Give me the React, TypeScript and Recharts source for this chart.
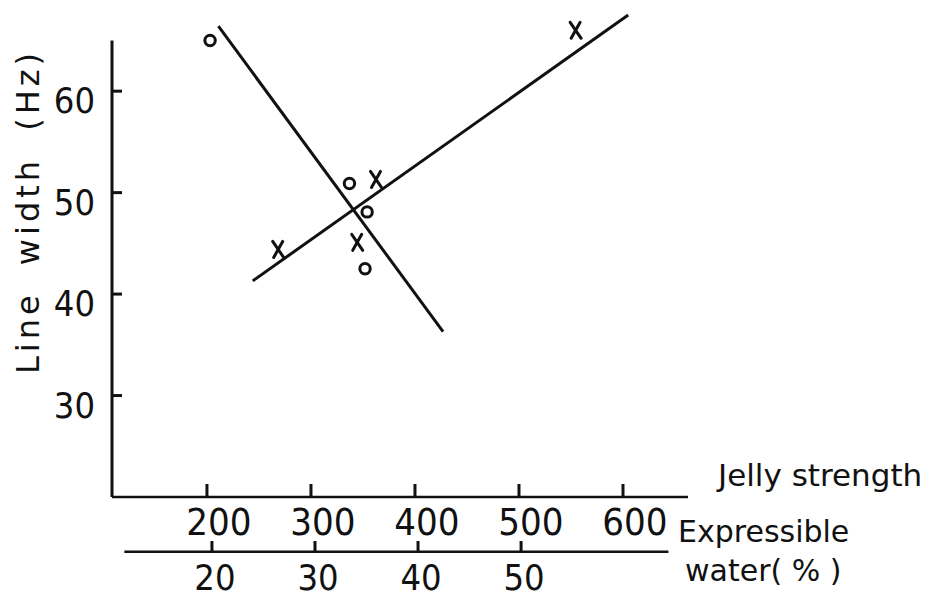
import { ReferenceLine, Scatter, ScatterChart, XAxis, YAxis } from "recharts";

// values
const jellyTicks = [200, 300, 400, 500, 600];
const waterTicks = [20, 30, 40, 50];
const widthTicks = [30, 40, 50, 60];

const circlePoints = [
  { js: 203, w: 65.0 },
  { js: 337, w: 50.9 },
  { js: 354, w: 48.1 },
  { js: 352, w: 42.5 },
];
const crossPoints = [
  { js: 554, w: 66.0 },
  { js: 362, w: 51.3 },
  { js: 344, w: 45.1 },
  { js: 268, w: 44.4 },
];
const fallingLine = [
  { js: 211, w: 66.4 },
  { js: 427, w: 36.3 },
];
const risingLine = [
  { js: 244, w: 41.3 },
  { js: 605, w: 67.5 },
];

const JS_DOMAIN = [108.7, 662.5];
const WATER_DOMAIN = [10.3, 66.2];
const W_DOMAIN = [20, 68];

// the second scale needs something bound to it so recharts builds its ticks
const waterScale = waterTicks.map((v) => ({ water: v, w: 20 }));

const INK = "#111";
const NARROW = "'Liberation Sans Narrow', 'DejaVu Sans Condensed', 'Roboto Condensed', 'Liberation Sans', sans-serif";
const SANS = "'DejaVu Sans', sans-serif";

const JellyTick = ({ x, y, payload }: any) => (
  <g>
    <path d={`M${x},${y} V${y - 13}`} stroke={INK} strokeWidth={3} fill="none" />
    <text x={x + 12} y={y + 38} textAnchor="middle" fontSize={38} fontFamily={NARROW} fill={INK}>
      {payload.value}
    </text>
  </g>
);

const WaterTick = ({ x, y, payload }: any) => (
  <g>
    <path d={`M${x},${y} V${y - 11}`} stroke={INK} strokeWidth={3} fill="none" />
    <text x={x + 3} y={y + 38} textAnchor="middle" fontSize={36} fontFamily={NARROW} fill={INK}>
      {payload.value}
    </text>
  </g>
);

const WidthTick = ({ x, y, payload }: any) => (
  <g>
    <path d={`M${x},${y} H${x + 10}`} stroke={INK} strokeWidth={3} fill="none" />
    <text x={x - 17} y={y + 22} textAnchor="end" fontSize={36} fontFamily={NARROW} fill={INK}>
      {payload.value}
    </text>
  </g>
);

const JellyTitle = ({ viewBox }: any) => (
  <text x={viewBox.x + viewBox.width + 30} y={viewBox.y - 11} fontSize={31} fontFamily={SANS} fill={INK}>
    Jelly strength
  </text>
);

const WaterTitle = ({ viewBox }: any) => (
  <text fontSize={30} fontFamily={SANS} fill={INK}>
    <tspan x={viewBox.x + viewBox.width - 10} y={viewBox.y - 10}>Expressible</tspan>
    <tspan x={viewBox.x + viewBox.width - 3} y={viewBox.y + 29}>water( % )</tspan>
  </text>
);

const WidthTitle = ({ viewBox }: any) => {
  const cx = viewBox.x + 16;
  const cy = viewBox.y + viewBox.height / 2 - 42;
  return (
    <text
      x={cx}
      y={cy}
      transform={`rotate(-90, ${cx}, ${cy})`}
      textAnchor="middle"
      dominantBaseline="central"
      fontSize={32}
      fontFamily={SANS}
      letterSpacing={4}
      wordSpacing={12}
      fill={INK}
    >
      Line width (Hz)
    </text>
  );
};

const OpenCircle = ({ cx, cy }: any) => (
  <circle cx={cx} cy={cy} r={5.2} fill="#fff" stroke={INK} strokeWidth={3} />
);

const Cross = ({ cx, cy }: any) => (
  <g stroke={INK} strokeWidth={3} strokeLinecap="round">
    <line x1={cx - 5} y1={cy - 8} x2={cx + 6} y2={cy + 8} />
    <line x1={cx + 5} y1={cy - 8} x2={cx - 4} y2={cy + 8} />
  </g>
);

const NoDot = () => <g />;

export default function App() {
  return (
    <div style={{ position: "absolute", left: 0, top: 0, background: "#fff" }}>
      <ScatterChart width={945} height={597} margin={{ top: 10, right: 257, bottom: 0, left: 12 }}>
        <XAxis
          xAxisId="js"
          type="number"
          dataKey="js"
          domain={JS_DOMAIN}
          ticks={jellyTicks}
          interval={0}
          allowDataOverflow
          height={55}
          tickSize={0}
          tickMargin={0}
          tickLine={false}
          tick={<JellyTick />}
          axisLine={{ stroke: INK, strokeWidth: 2.5 }}
          label={<JellyTitle />}
        />
        <XAxis
          xAxisId="water"
          type="number"
          dataKey="water"
          domain={WATER_DOMAIN}
          ticks={waterTicks}
          interval={0}
          allowDataOverflow
          height={45}
          tickSize={0}
          tickMargin={0}
          tickLine={false}
          tick={<WaterTick />}
          axisLine={false}
          label={<WaterTitle />}
        />
        <YAxis
          type="number"
          dataKey="w"
          domain={W_DOMAIN}
          ticks={widthTicks}
          interval={0}
          allowDataOverflow
          width={100}
          tickSize={0}
          tickMargin={0}
          tickLine={false}
          tick={<WidthTick />}
          axisLine={false}
          label={<WidthTitle />}
        />
        {/* y axis line stops at 65 Hz as in the figure */}
        <ReferenceLine
          xAxisId="js"
          segment={[
            { x: JS_DOMAIN[0], y: 20 },
            { x: JS_DOMAIN[0], y: 65 },
          ]}
          stroke={INK}
          strokeWidth={3}
          ifOverflow="visible"
        />
        {/* expressible water scale line, drawn below the plot */}
        <ReferenceLine
          xAxisId="water"
          segment={[
            { x: 11.5, y: 14.6 },
            { x: 64.3, y: 14.6 },
          ]}
          stroke={INK}
          strokeWidth={2.5}
          ifOverflow="visible"
        />
        <Scatter xAxisId="water" data={waterScale} shape={<NoDot />} isAnimationActive={false} />
        <Scatter xAxisId="js" data={fallingLine} line={{ stroke: INK, strokeWidth: 3 }} shape={<NoDot />} isAnimationActive={false} />
        <Scatter xAxisId="js" data={risingLine} line={{ stroke: INK, strokeWidth: 3 }} shape={<NoDot />} isAnimationActive={false} />
        <Scatter xAxisId="js" data={circlePoints} shape={<OpenCircle />} isAnimationActive={false} />
        <Scatter xAxisId="js" data={crossPoints} shape={<Cross />} isAnimationActive={false} />
      </ScatterChart>
    </div>
  );
}
